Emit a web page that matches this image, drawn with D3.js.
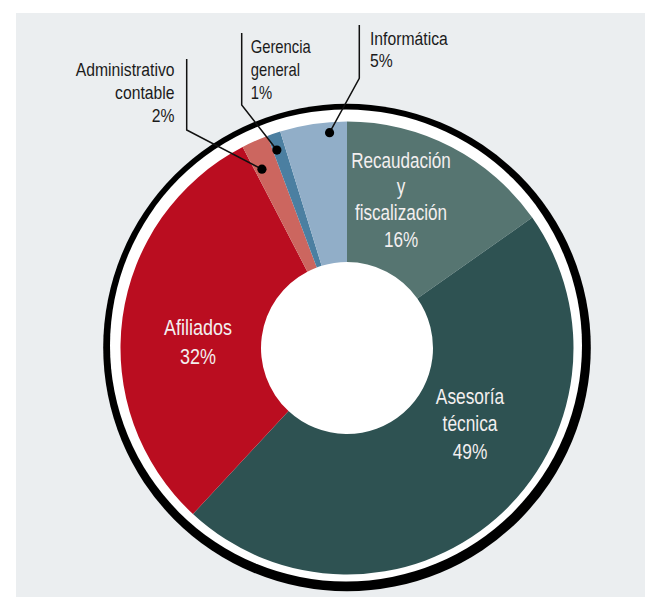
<!DOCTYPE html>
<html>
<head>
<meta charset="utf-8">
<script src="https://cdn.jsdelivr.net/npm/d3@7"></script>
<style>
  html, body { margin: 0; padding: 0; background: #ffffff; }
  svg { display: block; }
  text { font-family: "Liberation Sans Narrow", "Liberation Sans", "DejaVu Sans Condensed", sans-serif; }
</style>
</head>
<body>
<svg id="chart" width="645" height="597"></svg>
<script>
// Budget share by area (percent), clockwise from 12 o'clock
const categories = [
  "Recaudación y fiscalización",
  "Asesoría técnica",
  "Afiliados",
  "Administrativo contable",
  "Gerencia general",
  "Informática"
];
const shares = [16, 49, 32, 2, 1, 5];
const labelLines = [
  ["Recaudación", "y", "fiscalización"],
  ["Asesoría", "técnica"],
  ["Afiliados"],
  ["Administrativo", "contable"],
  ["Gerencia", "general"],
  ["Informática"]
];
const sliceColors = ["#567571", "#2e5252", "#ba0d20", "#cc665f", "#4b7fa1", "#91aec8"];

// Label placement: inside labels sit on the slice, outside ones use a leader line
const labelLayout = {
  "Recaudación y fiscalización": { inside: true, anchor: "middle", x: 401, y: 167.5, lh: 26.5, size: 22.5, sx: 0.76 },
  "Asesoría técnica":            { inside: true, anchor: "middle", x: 470, y: 404, lh: 27.5, size: 22.5, sx: 0.77 },
  "Afiliados":                   { inside: true, anchor: "middle", x: 198, y: 335, lh: 29, size: 22.5, sx: 0.8 },
  "Administrativo contable":     { inside: false, anchor: "end", x: 174.5, y: 76, lh: 22.8, size: 18.5, sx: 0.85,
                                   lineX: 186.7, lineTop: 59, elbowY: 130, dotR: 198, dotAt: 0.29 },
  "Gerencia general":            { inside: false, anchor: "start", x: 250.7, y: 53.3, lh: 22.8, size: 18.5, sx: 0.8,
                                   lineX: 241.7, lineTop: 33, elbowY: 105, dotR: 210, dotAt: 0.31 },
  "Informática":                 { inside: false, anchor: "start", x: 370, y: 45, lh: 22, size: 18.5, sx: 0.85,
                                   lineX: 359.3, lineTop: 25, elbowY: 78.3, dotR: 216, dotAt: 0.73 }
};

const svg = d3.select("#chart");
const cx = 347, cy = 348;
const outerR = 226.5, innerR = 86;

// Panel background
svg.append("rect")
  .attr("x", 16).attr("y", 13)
  .attr("width", 629).attr("height", 584)
  .attr("fill", "#ebeef0");

// Black rim and white band around the donut
svg.append("circle").attr("cx", cx).attr("cy", cy - 0.5).attr("r", 243.8).attr("fill", "#000");
svg.append("circle").attr("cx", cx - 1).attr("cy", cy - 2.5).attr("r", 236).attr("fill", "#fff");

const data = categories.map((c, i) => ({ category: c, value: shares[i], lines: labelLines[i], color: sliceColors[i] }));

const pie = d3.pie().value(d => d.value).sort(null).startAngle(0).endAngle(2 * Math.PI);
const arcs = pie(data);
const arc = d3.arc().innerRadius(innerR).outerRadius(outerR);

const g = svg.append("g").attr("transform", `translate(${cx},${cy})`);

g.selectAll("path.slice")
  .data(arcs)
  .join("path")
  .attr("class", "slice")
  .attr("d", arc)
  .attr("fill", d => d.data.color);

// Labels
const fmt = v => `${v}%`;
arcs.forEach(a => {
  const L = labelLayout[a.data.category];
  const lines = a.data.lines.concat([fmt(a.data.value)]);
  const lg = svg.append("g")
    .attr("transform", `translate(${L.x},${L.y}) scale(${L.sx || 1},1)`);
  lg.selectAll("text")
    .data(lines)
    .join("text")
    .attr("x", 0)
    .attr("y", (d, i) => i * L.lh)
    .attr("text-anchor", L.anchor)
    .attr("font-size", L.size)
    .attr("fill", L.inside ? "#f3efef" : "#1b1b1b")
    .text(d => d);

  if (!L.inside) {
    const ang = a.startAngle + (a.endAngle - a.startAngle) * L.dotAt;
    const dx = cx + L.dotR * Math.sin(ang);
    const dy = cy - L.dotR * Math.cos(ang);
    svg.append("path")
      .attr("d", d3.line()([[L.lineX, L.lineTop], [L.lineX, L.elbowY], [dx, dy]]))
      .attr("fill", "none")
      .attr("stroke", "#111")
      .attr("stroke-width", 1.5);
    svg.append("circle")
      .attr("cx", dx).attr("cy", dy).attr("r", 4.6)
      .attr("fill", "#000");
  }
});
</script>
</body>
</html>
